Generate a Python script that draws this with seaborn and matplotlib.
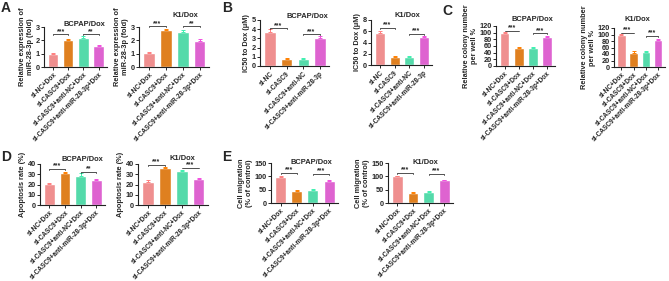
import numpy as np
import pandas as pd
import matplotlib.pyplot as plt
import seaborn as sns

sns.set_theme(style="ticks")
plt.rcParams['font.family'] = ['Liberation Sans', 'DejaVu Sans']
plt.rcParams['font.weight'] = 'bold'

groups_dox = ["si-NC+Dox", "si-CASC9+Dox", "si-CASC9+anti-NC+Dox", "si-CASC9+anti-miR-28-3p+Dox"]
groups_ic50 = ["si-NC", "si-CASC9", "si-CASC9+anti-NC", "si-CASC9+anti-miR-28-3p"]
colors = ["#FF7F7F", "#FF8000", "#3EF0B0", "#F24FE0"]

# A - relative miR-28-3p expression
mir_bcpap = [1.0, 2.05, 2.2, 1.55]
mir_bcpap_err = [0.03, 0.08, 0.12, 0.07]
mir_k1 = [1.05, 2.75, 2.65, 1.95]
mir_k1_err = [0.06, 0.1, 0.1, 0.12]
# B - IC50 to Dox
ic50_bcpap = [3.7, 0.75, 0.75, 3.05]
ic50_bcpap_err = [0.35, 0.08, 0.1, 0.25]
ic50_k1 = [5.7, 1.45, 1.5, 5.0]
ic50_k1_err = [0.4, 0.08, 0.06, 0.15]
# C - colony number
col_bcpap = [100, 53, 53, 87]
col_bcpap_err = [1, 3, 5, 3]
col_k1 = [100, 42, 45, 83]
col_k1_err = [1, 7, 5, 3]
# D - apoptosis
apo_bcpap = [20.5, 31, 28.5, 24.5]
apo_bcpap_err = [0.5, 1.5, 2.5, 0.8]
apo_k1 = [22.5, 36, 33.5, 25.5]
apo_k1_err = [1.5, 1.0, 0.5, 0.5]
# E - migration
mig_bcpap = [98, 46, 50, 83]
mig_bcpap_err = [2, 2, 1, 2]
mig_k1 = [100, 39, 43, 86]
mig_k1_err = [1, 2, 1, 1]

# significance: (bar a, bar b, height, stars)
sig_a1 = [(0, 1, 2.45, "***"), (2, 3, 2.45, "**")]
sig_a2 = [(0, 1, 3.05, "***"), (2, 3, 3.05, "**")]
sig_b1 = [(0, 1, 4.1, "***"), (2, 3, 3.45, "***")]
sig_b2 = [(0, 1, 6.6, "***"), (2, 3, 5.5, "***")]
sig_c1 = [(0, 1, 106, "***"), (2, 3, 98, "***")]
sig_c2 = [(0, 1, 106, "***"), (2, 3, 95, "***")]
sig_d1 = [(0, 1, 35, "***"), (2, 3, 32, "**")]
sig_d2 = [(0, 1, 39, "***"), (2, 3, 36.5, "***")]
sig_e1 = [(0, 1, 112, "***"), (2, 3, 108, "***")]
sig_e2 = [(0, 1, 112, "***"), (2, 3, 108, "***")]

W, H = 669, 281
fig = plt.figure(figsize=(W / 100, H / 100), dpi=100)


def make_ax(x0, y0, x1, y1):
    return fig.add_axes([x0 / W, 1 - y1 / H, (x1 - x0) / W, (y1 - y0) / H])


def draw(box, labels, vals, errs, ymax, step, ylabel, title, sig, title_pos):
    ax = make_ax(*box)
    df = pd.DataFrame({"group": labels, "value": vals})
    sns.barplot(data=df, x="group", y="value", hue="group", palette=colors,
                width=0.68, legend=False, ax=ax, errorbar=None)
    for i, (v, e) in enumerate(zip(vals, errs)):
        ax.errorbar(i, v, yerr=[[0], [e]], fmt="none", ecolor=colors[i],
                    elinewidth=0.7, capsize=1.6, capthick=0.7)
    ax.set_xlim(-0.6, 3.55)
    ax.set_ylim(0, ymax)
    ax.set_yticks(np.arange(0, ymax + step / 2, step))
    ax.set_xlabel("")
    ax.set_ylabel(ylabel, fontsize=5.3, fontweight="bold", labelpad=1)
    ax.set_xticks(range(4))
    ax.set_xticklabels(labels, rotation=45, ha="right", rotation_mode="anchor",
                       fontsize=4.7, fontweight="bold")
    ax.tick_params(axis="y", labelsize=5.3, length=2, width=0.7, pad=1)
    ax.tick_params(axis="x", length=2, width=0.7, pad=1)
    for s in ["left", "bottom"]:
        ax.spines[s].set_linewidth(0.8)
        ax.spines[s].set_color("#222222")
    sns.despine(ax=ax)
    ax.text(title_pos[0], title_pos[1], title, transform=ax.transAxes, ha="center",
            va="bottom", fontsize=5.4, fontweight="bold")
    d = ymax * 0.02
    for a, b, h, stars in sig:
        ax.plot([a, a, b, b], [h - d, h, h, h - d], color="#333333", lw=0.6,
                clip_on=False)
        ax.text((a + b) / 2, h - d * 0.6, stars, ha="center", va="bottom",
                fontsize=5, fontweight="bold", clip_on=False)
    return ax


ylab_a = "Relative expression of\nmiR-28-3p (fold)"
ylab_b = "IC50 to Dox (\u03bcM)"
ylab_c = "Relative colony number\nper well %"
ylab_d = "Apoptosis rate (%)"
ylab_e = "Cell migration\n(% of control)"

draw((44, 27, 107, 67), groups_dox, mir_bcpap, mir_bcpap_err, 3, 1, ylab_a, "BCPAP/Dox", sig_a1, (0.64, 0.98))
draw((139, 27, 209, 67), groups_dox, mir_k1, mir_k1_err, 3, 1, ylab_a, "K1/Dox", sig_a2, (0.66, 1.2))
draw((260, 20, 329, 66), groups_ic50, ic50_bcpap, ic50_bcpap_err, 5, 1, ylab_b, "BCPAP/Dox", sig_b1, (0.68, 1.0))
draw((371, 20, 432, 65), groups_ic50, ic50_k1, ic50_k1_err, 8, 2, ylab_b, "K1/Dox", sig_b2, (0.6, 1.02))
draw((496, 26, 555, 66), groups_dox, col_bcpap, col_bcpap_err, 120, 20, ylab_c, "BCPAP/Dox", sig_c1, (0.62, 1.07))
draw((614, 28, 665, 67), groups_dox, col_k1, col_k1_err, 120, 20, ylab_c, "K1/Dox", sig_c2, (0.45, 1.12))
draw((40, 164, 105, 205), groups_dox, apo_bcpap, apo_bcpap_err, 40, 10, ylab_d, "BCPAP/Dox", sig_d1, (0.65, 1.02))
draw((138, 164, 208, 205), groups_dox, apo_k1, apo_k1_err, 40, 10, ylab_d, "K1/Dox", sig_d2, (0.63, 1.05))
draw((271, 163, 338, 203), groups_dox, mig_bcpap, mig_bcpap_err, 150, 50, ylab_e, "BCPAP/Dox", sig_e1, (0.6, 0.93))
draw((388, 163, 453, 203), groups_dox, mig_k1, mig_k1_err, 150, 50, ylab_e, "K1/Dox", sig_e2, (0.57, 0.93))

for letter, x, y in [("A", 1, 1), ("B", 222, 1), ("C", 442, 4), ("D", 1, 150), ("E", 222, 150)]:
    fig.text(x / W, 1 - y / H, letter, fontsize=10, fontweight="bold", va="top", ha="left")

fig.savefig("out.png", dpi=100)
